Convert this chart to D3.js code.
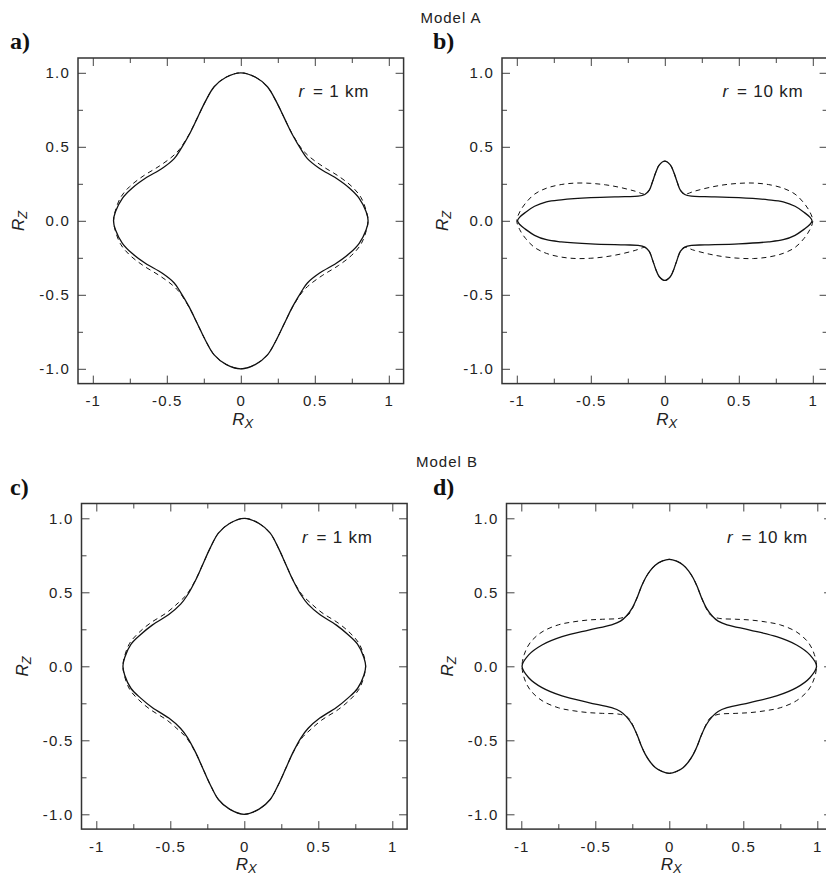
<!DOCTYPE html>
<html>
<head>
<meta charset="utf-8">
<script src="https://cdn.jsdelivr.net/npm/d3@7"></script>
<style>
  body { margin: 0; background: #fff; }
</style>
</head>
<body>
<script>
// quadrant points [Rx, Rz], read from top (x=0) round to the tip (z=0)
const aSolid = [[0,1.0],[0.10,0.97],[0.18,0.906],[0.24,0.805],[0.295,0.692],[0.35,0.58],[0.41,0.478],[0.45,0.42],[0.53,0.355],[0.645,0.287],[0.735,0.22],[0.80,0.152],[0.847,0.061],[0.86,0]]
const aDashed = [[0,1.0],[0.10,0.97],[0.18,0.906],[0.24,0.805],[0.295,0.692],[0.35,0.583],[0.415,0.482],[0.465,0.432],[0.55,0.37],[0.66,0.302],[0.75,0.232],[0.812,0.158],[0.848,0.066],[0.86,0]]
const bSolid = [[0,0.403],[0.037,0.378],[0.06,0.33],[0.083,0.264],[0.105,0.207],[0.135,0.178],[0.18,0.166],[0.27,0.163],[0.50,0.156],[0.70,0.142],[0.80,0.128],[0.88,0.098],[0.94,0.058],[0.98,0.025],[0.995,0]]
const bDashed = [[0,0.403],[0.037,0.378],[0.06,0.33],[0.083,0.264],[0.105,0.207],[0.13,0.18],[0.20,0.20],[0.30,0.225],[0.40,0.243],[0.50,0.253],[0.60,0.255],[0.70,0.245],[0.80,0.22],[0.88,0.18],[0.94,0.12],[0.98,0.06],[1.0,0]]
const cSolid = [[0,1.0],[0.10,0.965],[0.175,0.9],[0.23,0.80],[0.28,0.69],[0.33,0.58],[0.385,0.48],[0.43,0.42],[0.51,0.35],[0.62,0.28],[0.70,0.215],[0.765,0.15],[0.808,0.06],[0.82,0]]
const cDashed = [[0,1.0],[0.10,0.965],[0.175,0.9],[0.23,0.80],[0.28,0.69],[0.33,0.582],[0.39,0.484],[0.445,0.43],[0.525,0.362],[0.635,0.292],[0.715,0.225],[0.775,0.155],[0.81,0.064],[0.82,0]]
const dSolid = [[0,0.723],[0.05,0.71],[0.095,0.683],[0.13,0.645],[0.162,0.595],[0.19,0.535],[0.215,0.47],[0.25,0.395],[0.29,0.34],[0.33,0.305],[0.39,0.28],[0.545,0.245],[0.725,0.20],[0.86,0.144],[0.95,0.077],[0.995,0]]
const dDashed = [[0,0.723],[0.05,0.71],[0.095,0.683],[0.13,0.645],[0.162,0.595],[0.19,0.535],[0.215,0.47],[0.25,0.39],[0.28,0.345],[0.33,0.325],[0.45,0.318],[0.545,0.313],[0.65,0.30],[0.75,0.28],[0.86,0.232],[0.94,0.16],[0.98,0.08],[0.995,0]]

const xMajor = [-1, -0.5, 0, 0.5, 1]
const xLabels = ['-1', '-0.5', '0', '0.5', '1']
const yMajor = [-1, -0.5, 0, 0.5, 1]
const yLabels = ['-1.0', '-0.5', '0.0', '0.5', '1.0']
const minor = [-0.75, -0.25, 0.25, 0.75]

const panels = [
  { tag: 'a)', r: '1', left: 78, top: 58, solid: aSolid, dashed: aDashed },
  { tag: 'b)', r: '10', left: 502, top: 58, solid: bSolid, dashed: bDashed },
  { tag: 'c)', r: '1', left: 81.5, top: 503.5, solid: cSolid, dashed: cDashed },
  { tag: 'd)', r: '10', left: 506.5, top: 503.5, solid: dSolid, dashed: dDashed }
]
const titles = [{ text: 'Model A', x: 451, y: 23 }, { text: 'Model B', x: 447, y: 467 }]

const W = 826, H = 876
const size = 325.6
const sans = '"Liberation Sans", Arial, Helvetica, sans-serif'

// mirror one quadrant into a closed loop
function loop(q) {
  const q4 = q.slice().reverse().slice(1).map(([x, z]) => [x, -z])
  const q3 = q.slice(1).map(([x, z]) => [-x, -z])
  const q2 = q.slice().reverse().slice(1, -1).map(([x, z]) => [-x, z])
  return q.concat(q4, q3, q2)
}

const svg = d3.select('body').append('svg')
  .attr('width', W)
  .attr('height', H)
  .style('display', 'block')
  .attr('font-family', sans)

svg.selectAll('text.title')
  .data(titles)
  .enter()
  .append('text')
  .attr('class', 'title')
  .attr('x', d => d.x)
  .attr('y', d => d.y)
  .attr('text-anchor', 'middle')
  .attr('font-family', sans)
  .attr('font-size', 15)
  .attr('letter-spacing', 1)
  .attr('fill', '#222')
  .text(d => d.text)

panels.forEach(p => {
  const x = d3.scaleLinear().domain([-1.1, 1.1]).range([p.left, p.left + size])
  const y = d3.scaleLinear().domain([-1.1, 1.1]).range([p.top + size, p.top])
  const g = svg.append('g')

  const line = d3.line()
    .x(d => x(d[0]))
    .y(d => y(d[1]))
    .curve(d3.curveCatmullRomClosed)

  g.append('path')
    .attr('d', line(loop(p.dashed)))
    .attr('fill', 'none')
    .attr('stroke', '#111')
    .attr('stroke-width', 1)
    .attr('stroke-dasharray', '5,4')

  g.append('path')
    .attr('d', line(loop(p.solid)))
    .attr('fill', 'none')
    .attr('stroke', '#111')
    .attr('stroke-width', 1.3)

  const axes = [
    ['bottom', p.top + size, 'x'],
    ['top', p.top, 'x'],
    ['left', p.left, 'y'],
    ['right', p.left + size, 'y']
  ]
  const makeAxis = side => side === 'bottom' ? d3.axisBottom(x) : side === 'top' ? d3.axisTop(x) : side === 'left' ? d3.axisLeft(y) : d3.axisRight(y)

  axes.forEach(([side, pos, dim]) => {
    const tr = dim === 'x' ? `translate(0,${pos})` : `translate(${pos},0)`
    const labelled = side === 'bottom' || side === 'left'
    const ticks = dim === 'x' ? xMajor : yMajor
    const labels = dim === 'x' ? xLabels : yLabels
    g.append('g')
      .attr('transform', tr)
      .call(makeAxis(side).tickValues(ticks).tickSize(-8)
        .tickPadding(side === 'bottom' ? 12 : 8)
        .tickFormat((d, i) => labelled ? labels[i] : ''))
      .attr('font-family', sans)
      .attr('font-size', 15)
      .call(s => s.select('.domain').remove())
      .call(s => s.selectAll('line').attr('stroke', '#444'))
      .call(s => s.selectAll('text').attr('fill', '#222').attr('letter-spacing', 1.2))
    g.append('g')
      .attr('transform', tr)
      .call(makeAxis(side).tickValues(minor).tickSize(-5).tickFormat(''))
      .call(s => s.select('.domain').remove())
      .call(s => s.selectAll('line').attr('stroke', '#444'))
  })

  g.append('rect')
    .attr('x', p.left)
    .attr('y', p.top)
    .attr('width', size)
    .attr('height', size)
    .attr('fill', 'none')
    .attr('stroke', '#333')
    .attr('stroke-width', 1.5)

  // axis titles
  const rx = g.append('text')
    .attr('x', x(0) + 2)
    .attr('y', p.top + size + 41)
    .attr('text-anchor', 'middle')
    .attr('font-family', sans)
    .attr('font-size', 17)
    .attr('fill', '#222')
  rx.append('tspan').attr('font-style', 'italic').text('R')
  rx.append('tspan').attr('font-style', 'italic').attr('font-size', 13).attr('dy', 3).text('X')

  const rz = g.append('text')
    .attr('transform', `translate(${p.left - 54},${y(0)}) rotate(-90)`)
    .attr('text-anchor', 'middle')
    .attr('font-family', sans)
    .attr('font-size', 17)
    .attr('fill', '#222')
  rz.append('tspan').attr('font-style', 'italic').text('R')
  rz.append('tspan').attr('font-style', 'italic').attr('font-size', 13).attr('dy', 3).text('Z')

  const rt = g.append('text')
    .attr('x', x(0.39))
    .attr('y', y(0.835))
    .attr('font-family', sans)
    .attr('font-size', 17)
    .attr('letter-spacing', 0.8)
    .attr('fill', '#222')
  rt.append('tspan').attr('font-style', 'italic').text('r')
  rt.append('tspan').attr('dx', 8).text('= ' + p.r + ' km')

  svg.append('text')
    .attr('x', p.left < 300 ? 10 : 433)
    .attr('y', p.top - 9)
    .attr('font-family', '"Liberation Serif", "Times New Roman", serif')
    .attr('font-weight', 'bold')
    .attr('font-size', 24)
    .attr('fill', '#111')
    .text(p.tag)
})
</script>
</body>
</html>
